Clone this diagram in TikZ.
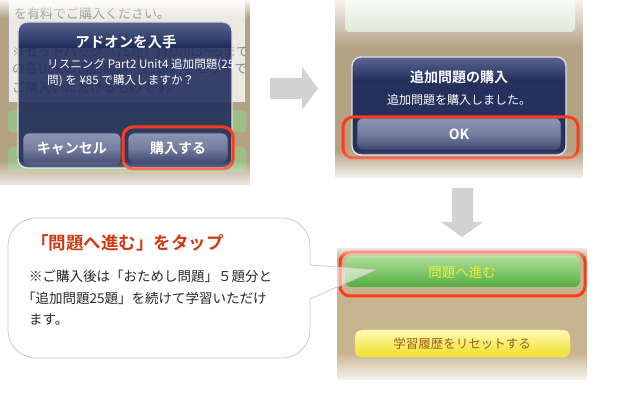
\documentclass[tikz,border=0pt]{standalone}
\usepackage{fontspec}
\setmainfont{Noto Sans CJK JP}[BoldFont=* Bold]
\usetikzlibrary{fadings}
\definecolor{wood}{HTML}{B3A282}
\definecolor{woodb}{HTML}{C6B38F}
\definecolor{panel}{HTML}{ECE9E3}
\definecolor{navy}{HTML}{1E2A5A}
\definecolor{navytop}{HTML}{5A6690}
\definecolor{hlred}{HTML}{FF3B1C}
\definecolor{btntop}{HTML}{8C95B3}
\definecolor{btnbot}{HTML}{3E4870}
\definecolor{grtop}{HTML}{B2DF9C}
\definecolor{grbot}{HTML}{52AD40}
\definecolor{yetop}{HTML}{FFFAB8}
\definecolor{yebot}{HTML}{F0DF22}
\definecolor{yetext}{HTML}{E8F23A}
\definecolor{brtext}{HTML}{9E5E1E}
\definecolor{calloutline}{HTML}{D4CBB7}
\definecolor{titlered}{HTML}{CF3A12}
\definecolor{arrowgrey}{HTML}{D2D2D2}
\definecolor{faintgreen}{HTML}{9DBE87}
\tikzset{
  dlgtitle/.style={text=white, font=\bfseries\fontsize{14.5}{15}\selectfont, inner sep=0pt},
  dlgmsg/.style={text=white, font=\fontsize{11.6}{13}\selectfont, inner sep=0pt},
  btntext/.style={text=white, font=\bfseries\fontsize{14}{15}\selectfont, inner sep=0pt},
  redbox/.style={draw=hlred, line width=3pt, rounded corners=10pt},
  dlgbtn/.style={top color=btntop, bottom color=btnbot, middle color=btntop!70!btnbot, rounded corners=6pt, draw=btnbot!80!black, line width=0.6pt},
  dlgframe/.style={draw=white!85!navy, line width=1.4pt, rounded corners=9pt},
  bgtext/.style={text=black!45, font=\fontsize{13}{14}\selectfont, inner sep=0pt, anchor=west},
  bodytext/.style={text=black!85, font=\fontsize{13.5}{14}\selectfont, inner sep=0pt, anchor=base west},
  grayarrow/.style={fill=arrowgrey},
}
\begin{document}
\begin{tikzpicture}[x=1pt,y=-1pt]
\useasboundingbox (0,0) rectangle (625,401);
\fill[white] (0,0) rectangle (625,401);

% ---------------- screenshot 1 (top left)
\begin{scope}
\clip (0,0) rectangle (250,185);
\fill[wood] (0,0) rectangle (250,185);
\fill[panel, draw=black!35] (8,-5) rectangle (245,102);
\node[bgtext] (bg1) at (14,14) {を有料でご購入ください。};
\node[bgtext] (bg2) at (12,52) {※セットパック（75題）はUnit3〜5まで};
\node[bgtext] (bg3) at (12,69) {の各Unitの追加問題（25題）をセットで};
\node[bgtext] (bg4) at (12,88) {ご購入いただけるものです。};
\fill[faintgreen, rounded corners=4pt] (8,110) rectangle (246,132);
\fill[faintgreen, rounded corners=4pt] (8,147) rectangle (246,172);
% dialog
\begin{scope}
\clip[rounded corners=9pt] (18,22) rectangle (232,168);
\fill[navy, opacity=0.88] (18,22) rectangle (232,168);
\shade[top color=navytop, bottom color=navy, opacity=0.9] (18,22) rectangle (232,48);
\end{scope}
\draw[dlgframe] (18,22) rectangle (232,168);
\node[dlgtitle] (t1) at (126,42) {アドオンを入手};
\node[dlgmsg, anchor=west] (m1) at (47,65) {リスニング Part2 Unit4 追加問題(25};
\node[dlgmsg, anchor=west] (m2) at (47,81) {問) を ¥85 で購入しますか？};
\draw[dlgbtn] (23,133) rectangle (121,165);
\node[btntext] (cancel) at (72,149) {キャンセル};
\draw[dlgbtn] (128,133) rectangle (228,163);
\node[btntext] (buy) at (178,148) {購入する};
\draw[redbox] (123,127) rectangle (233,169);
\fill[white, path fading=south] (0,-2) rectangle (250,18);
\fill[white, path fading=north] (0,160) rectangle (250,192);
\end{scope}

% ---------------- arrow right
\fill[grayarrow] (270,78) -- (302,78) -- (302,67) -- (318,88.5) -- (302,110) -- (302,99) -- (270,99) -- cycle;

% ---------------- screenshot 2 (top right)
\begin{scope}
\clip (335,0) rectangle (583,178);
\fill[wood] (335,0) rectangle (583,178);
\fill[faintgreen!50!white, rounded corners=4pt] (345,-5) rectangle (575,32);
\begin{scope}
\clip[rounded corners=9pt] (352,57) rectangle (566,155);
\fill[navy, opacity=0.95] (352,57) rectangle (566,155);
\shade[top color=navytop, bottom color=navy] (352,57) rectangle (566,82);
\end{scope}
\draw[dlgframe] (352,57) rectangle (566,155);
\node[dlgtitle, font=\bfseries\fontsize{14}{15}\selectfont] (t2) at (459,77) {追加問題の購入};
\node[dlgmsg, font=\fontsize{12}{13}\selectfont] (m3) at (459,100) {追加問題を購入しました。};
\draw[dlgbtn] (357,118) rectangle (561,150);
\node[btntext] (ok) at (459,134) {OK};
\draw[redbox] (343,117) rectangle (578,158);
\fill[white, path fading=south] (335,-6) rectangle (583,48);
\fill[white, path fading=north] (335,150) rectangle (583,182);
\end{scope}

% ---------------- arrow down
\fill[grayarrow] (452,188) -- (473,188) -- (473,222) -- (483,222) -- (462,237) -- (441,222) -- (452,222) -- cycle;

% ---------------- screenshot 3 (bottom right)
\begin{scope}
\clip (337,248) rectangle (587,380);
\fill[woodb] (337,248) rectangle (587,380);
\shade[top color=grtop, bottom color=grbot, middle color=grtop!50!grbot, rounded corners=6pt] (345,256) rectangle (580,287);
\node[text=yetext, font=\fontsize{13.5}{14}\selectfont, inner sep=0pt] (go) at (462,272) {問題へ進む};
\draw[redbox] (340,252) rectangle (585,296);
\shade[top color=yetop, bottom color=yebot, rounded corners=7pt, draw=yebot!70!white] (355,330) rectangle (570,357);
\node[text=brtext, font=\fontsize{12.5}{13}\selectfont, inner sep=0pt] (reset) at (462,344) {学習履歴をリセットする};
\fill[white, path fading=south] (337,244) rectangle (587,258);
\fill[white, path fading=north] (337,352) rectangle (587,384);
\end{scope}

% ---------------- callout
\draw[fill=white, draw=calloutline, line width=0.8pt, rounded corners=28pt] (8,218) rectangle (310,358);
\draw[white, line width=2pt] (310,266.5) -- (310,298.5);
\coordinate (tip) at (375,270);
\coordinate (pa) at (310,265);
\coordinate (pb) at (310,299);
\fill[white, opacity=0.55] (pa) -- (tip) -- (pb) -- cycle;
\draw[calloutline, line width=0.8pt] (pa) -- (tip) -- (pb);
\node[text=titlered, font=\bfseries\fontsize{17.5}{18}\selectfont, inner sep=0pt, anchor=west] (ctitle) at (31,243) {「問題へ進む」をタップ};
\node[bodytext] (b1) at (29,282) {※ご購入後は「おためし問題」５題分と};
\node[bodytext] (b2) at (22,304) {「追加問題25題」を続けて学習いただけ};
\node[bodytext] (b3) at (29,325) {ます。};
\end{tikzpicture}
\end{document}
